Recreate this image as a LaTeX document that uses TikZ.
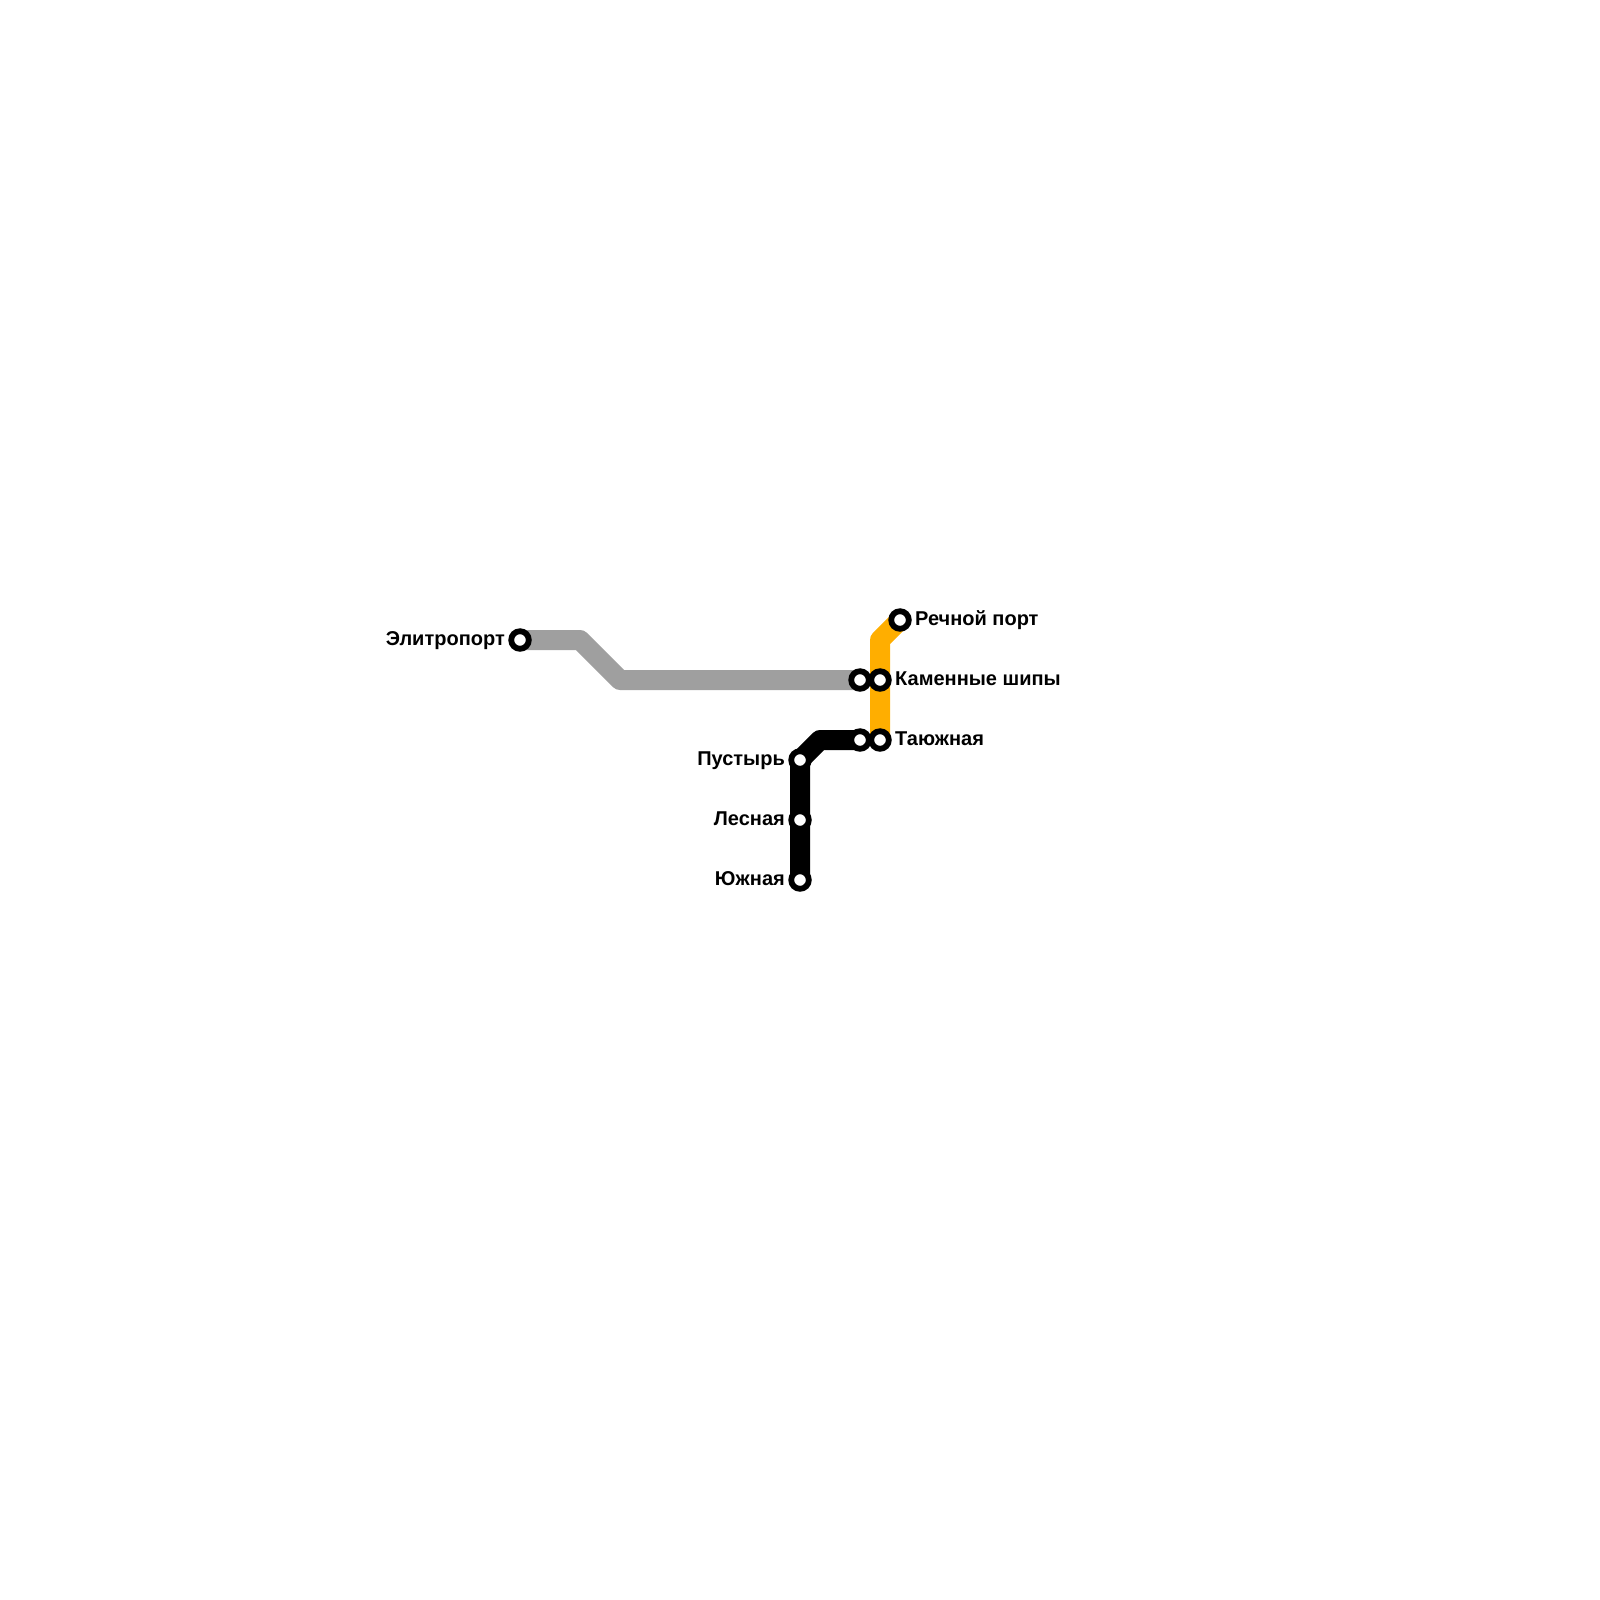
\documentclass[tikz,border=0pt]{standalone}
\usepackage{fontspec}
\setmainfont{Liberation Sans}
\definecolor{lgrey}{HTML}{9F9F9F}
\definecolor{lorange}{HTML}{FFAE00}
\tikzset{
  x=1pt,y=-1pt,
  metroline/.style={line width=20pt,line join=round,line cap=butt},
  station/.style={circle,draw=black,fill=white,line width=5.8pt,minimum size=17.6pt,inner sep=0pt},
  lab/.style={inner sep=0pt,font=\fontsize{20}{24}\selectfont\bfseries,text=black},
  labr/.style={lab,anchor=base west},
  labl/.style={lab,anchor=base east}
}
\begin{document}
\begin{tikzpicture}
\useasboundingbox (0,0) rectangle (1600,1600);
\coordinate (e) at (520,640);
\coordinate (g1) at (580,640);
\coordinate (g2) at (620,680);
\coordinate (kg) at (860,680);
\coordinate (o1) at (880,640);
\coordinate (r) at (900,620);
\coordinate (kam) at (880,680);
\coordinate (t) at (880,740);
\coordinate (tb) at (860,740);
\coordinate (b1) at (820,740);
\coordinate (p) at (800,760);
\coordinate (l) at (800,820);
\coordinate (y) at (800,880);
% lines
\draw[metroline,lgrey] (e) -- (g1) -- (g2) -- (kg);
\draw[metroline,lorange] (r) -- (o1) -- (kam) -- (t);
\draw[metroline,black] (y) -- (l) -- (p) -- (b1) -- (tb);
% station rings
\foreach \n in {e,kg,r,kam,t,tb,p,l,y}
  \node[station] (s\n) at (\n) {};
% labels
\node[labl] (le) at (505,645) {Элитропорт};
\node[labr] (lr) at (915,625) {Речной порт};
\node[labr] (lk) at (895,685) {Каменные шипы};
\node[labr] (lt) at (895,745) {Таюжная};
\node[labl] (lp) at (785,765) {Пустырь};
\node[labl] (ll) at (785,825) {Лесная};
\node[labl] (ly) at (785,885) {Южная};
\end{tikzpicture}
\end{document}
